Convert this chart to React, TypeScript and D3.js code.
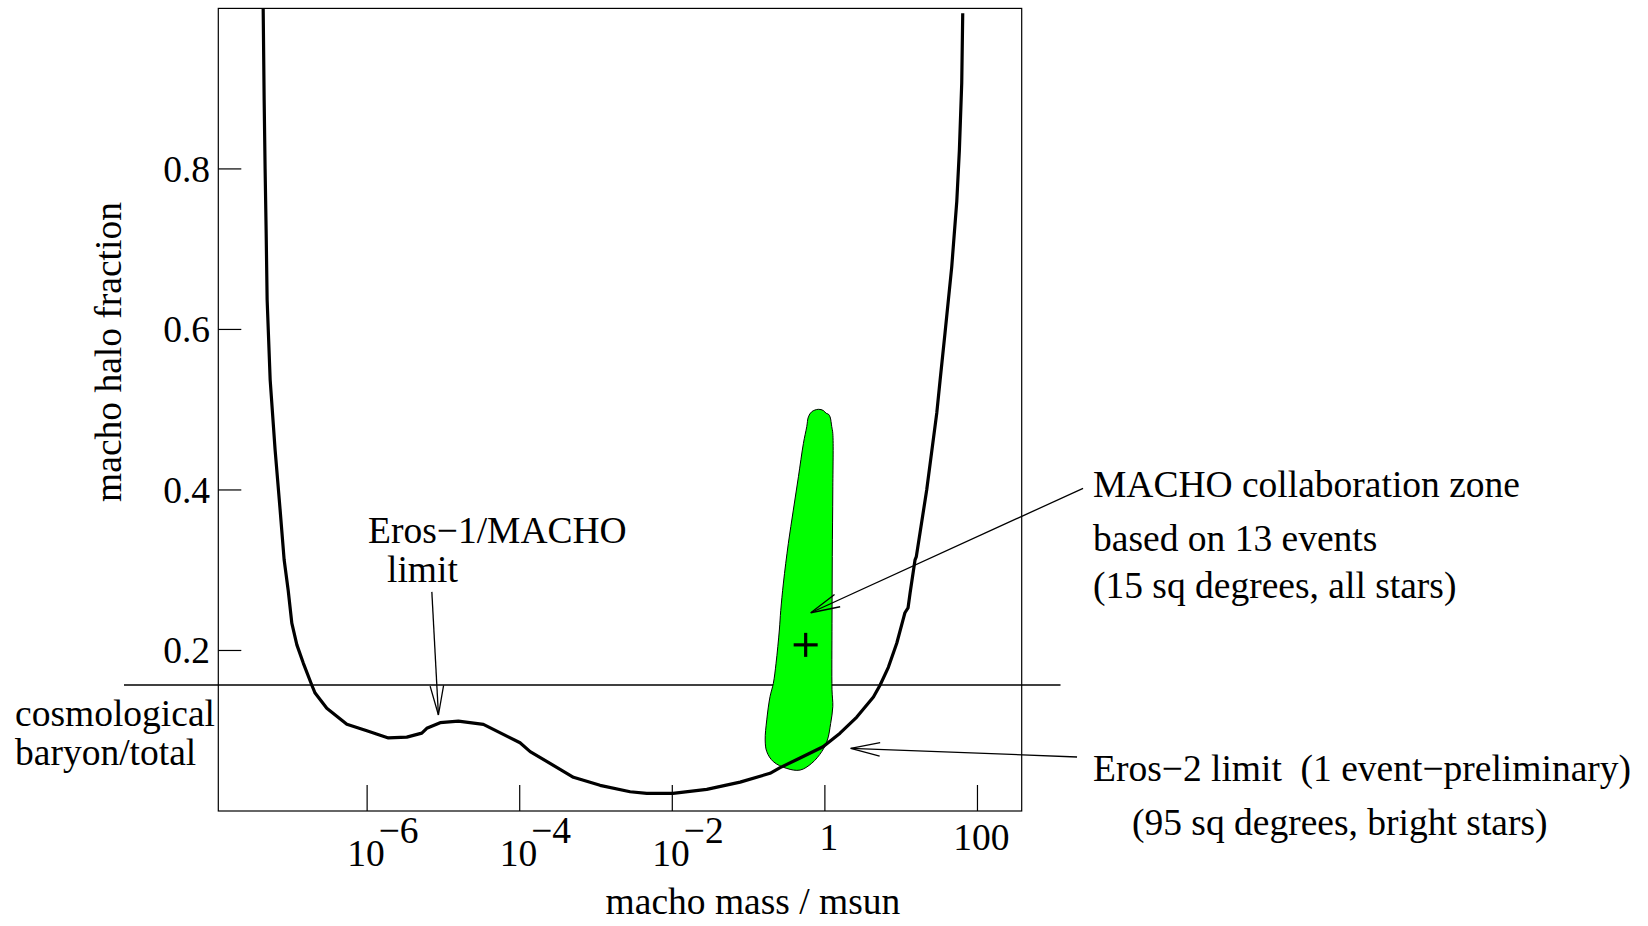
import React from 'react';
import * as d3 from 'd3';

// exclusion curve (Eros-2 / MACHO limit), mass in Msun vs halo fraction
const limitMass = [
  4.34e-8, 4.47e-8, 4.6e-8, 4.75e-8, 4.89e-8, 5.36e-8, 6.22e-8, 7.24e-8, 8.17e-8, 9.23e-8,
  1.03e-7, 1.2e-7, 1.46e-7, 1.88e-7, 2.08e-7, 2.96e-7, 5.42e-7, 9.91e-7, 1.9e-6, 3.31e-6,
  5.21e-6, 6.05e-6, 9.06e-6, 1.57e-5, 3.34e-5, 1.01e-4, 1.37e-4, 4.14e-4, 5.06e-4, 1.13e-3,
  2.8e-3, 4.63e-3, 1.02e-2, 2.83e-2, 7.74e-2, 0.191, 0.259, 0.473, 0.946, 1.58,
  2.62, 4.33, 5.3, 6.79, 8.75, 10.7, 11.2, 12.3, 13.1, 15.2,
  15.8, 21.6, 29.3, 32.4, 37.6, 46.0, 53.6, 57.9, 62.2, 64.1
];
const limitFraction = [
  1.0, 0.886, 0.8, 0.72, 0.637, 0.537, 0.45, 0.375, 0.313, 0.275,
  0.234, 0.207, 0.184, 0.157, 0.147, 0.128, 0.108, 0.1, 0.091, 0.092,
  0.097, 0.103, 0.11, 0.112, 0.108, 0.085, 0.074, 0.047, 0.042, 0.032,
  0.024, 0.022, 0.022, 0.027, 0.036, 0.047, 0.054, 0.066, 0.08, 0.097,
  0.117, 0.142, 0.157, 0.179, 0.209, 0.24, 0.247, 0.253, 0.272, 0.313,
  0.317, 0.4, 0.496, 0.537, 0.596, 0.678, 0.76, 0.823, 0.907, 0.994
];

// MACHO collaboration allowed zone (outline)
const zoneMass = [
  0.822, 0.673, 0.608, 0.579, 0.523, 0.45, 0.386, 0.332, 0.286, 0.264,
  0.253, 0.229, 0.211, 0.191, 0.173, 0.165, 0.173, 0.211, 0.317, 0.473,
  0.673, 0.91, 1.08, 1.19, 1.27, 1.24, 1.24, 1.25, 1.27, 1.27,
  1.23, 1.17, 1.11, 1.04, 0.955
];
const zoneFraction = [
  0.5005, 0.4975, 0.491, 0.479, 0.458, 0.4165, 0.375, 0.3335, 0.284, 0.25,
  0.2255, 0.184, 0.159, 0.1425, 0.1135, 0.0885, 0.074, 0.0615, 0.053, 0.051,
  0.0595, 0.074, 0.0885, 0.109, 0.13, 0.151, 0.234, 0.317, 0.4, 0.4705,
  0.479, 0.491, 0.4945, 0.4955, 0.499
];

const bestFit = { mass: 0.56, fraction: 0.207 };
const cosmoFraction = 0.157;

const xTicks = [1e-6, 1e-4, 1e-2, 1, 100];
const xTickBase = ['10', '10', '10', '1', '100'];
const xTickExp = ['\u22126', '\u22124', '\u22122', '', ''];
const yTicks = [0.2, 0.4, 0.6, 0.8];
const yTickLabels = ['0.2', '0.4', '0.6', '0.8'];

// annotation arrows: [from, to] in (mass, fraction)
const arrows = [
  { from: [7.05e-6, 0.273], to: [8.6e-6, 0.1196] },
  { from: [2420, 0.402], to: [0.653, 0.247] },
  { from: [2020, 0.0673], to: [2.18, 0.0781] }
];

const FONT = '"Liberation Serif", "Times New Roman", Times, serif';

export default function App() {
  const width = 1648;
  const height = 926;
  const box = { left: 218.3, right: 1021.7, top: 8.4, bottom: 811 };

  const x = d3.scaleLog().domain([1.12e-8, 380]).range([box.left, box.right]);
  const y = d3.scaleLinear().domain([0, 1]).range([box.bottom, box.top]);

  const curve = d3
    .line<number>()
    .x((_, i) => x(limitMass[i]))
    .y((_, i) => y(limitFraction[i]))
    .curve(d3.curveLinear)(limitMass);

  const zone =
    d3
      .line<number>()
      .x((_, i) => x(zoneMass[i]))
      .y((_, i) => y(zoneFraction[i]))
      .curve(d3.curveCatmullRomClosed.alpha(0.5))(zoneMass) || '';

  const arrowHead = (a) => {
    const [x1, y1] = [x(a.from[0]), y(a.from[1])];
    const [x2, y2] = [x(a.to[0]), y(a.to[1])];
    const ang = Math.atan2(y1 - y2, x1 - x2);
    const len = 30;
    const spread = (13 * Math.PI) / 180;
    const p1 = [x2 + len * Math.cos(ang + spread), y2 + len * Math.sin(ang + spread)];
    const p2 = [x2 + len * Math.cos(ang - spread), y2 + len * Math.sin(ang - spread)];
    return { x1, y1, x2, y2, d: `M${p1[0]},${p1[1]}L${x2},${y2}L${p2[0]},${p2[1]}` };
  };

  const textStyle = { fontFamily: FONT, fontSize: 37.5, fill: '#000' };
  const px = x(bestFit.mass);
  const py = y(bestFit.fraction);

  return (
    <div style={{ position: 'absolute', left: 0, top: 0 }}>
      <svg width={width} height={height} style={{ display: 'block', background: '#fff' }}>
        <rect x={0} y={0} width={width} height={height} fill="#fff" />

        {/* cosmological baryon fraction */}
        <line x1={124} x2={1060.5} y1={y(cosmoFraction)} y2={y(cosmoFraction)} stroke="#000" strokeWidth={1.3} />

        {/* frame */}
        <rect
          x={box.left}
          y={box.top}
          width={box.right - box.left}
          height={box.bottom - box.top}
          fill="none"
          stroke="#000"
          strokeWidth={1.2}
        />

        {/* y ticks */}
        {yTicks.map((t, i) => (
          <g key={'y' + i}>
            <line x1={box.left} x2={box.left + 23} y1={y(t)} y2={y(t)} stroke="#000" strokeWidth={1.2} />
            <text x={210} y={y(t) + 13} textAnchor="end" style={textStyle}>
              {yTickLabels[i]}
            </text>
          </g>
        ))}

        {/* x ticks */}
        {xTicks.map((t, i) => (
          <g key={'x' + i}>
            <line x1={x(t)} x2={x(t)} y1={box.bottom} y2={box.bottom - 26} stroke="#000" strokeWidth={1.2} />
            {xTickExp[i] ? (
              <text x={x(t) - 20} y={866} style={textStyle}>
                {xTickBase[i]}
                <tspan dx={-6} dy={-23}>{xTickExp[i]}</tspan>
              </text>
            ) : (
              <text x={x(t) + 4} y={850} textAnchor="middle" style={textStyle}>
                {xTickBase[i]}
              </text>
            )}
          </g>
        ))}

        {/* MACHO zone */}
        <path d={zone} fill="#00ff00" stroke="#000" strokeWidth={1} />

        {/* exclusion limit */}
        <path d={curve || ''} fill="none" stroke="#000" strokeWidth={3.2} strokeLinejoin="round" />

        {/* best fit */}
        <line x1={px - 12} x2={px + 12} y1={py} y2={py} stroke="#000" strokeWidth={3.2} />
        <line x1={px} x2={px} y1={py - 12} y2={py + 12} stroke="#000" strokeWidth={3.2} />

        {/* arrows */}
        {arrows.map((a, i) => {
          const h = arrowHead(a);
          return (
            <g key={'a' + i} stroke="#000" strokeWidth={1.3} fill="none">
              <line x1={h.x1} y1={h.y1} x2={h.x2} y2={h.y2} />
              <path d={h.d} />
            </g>
          );
        })}

        {/* axis titles */}
        <text transform="translate(121,352) rotate(-90)" textAnchor="middle" style={textStyle}>
          macho halo fraction
        </text>
        <text x={753} y={914} textAnchor="middle" style={textStyle}>
          macho mass / msun
        </text>

        {/* annotations */}
        <text x={15} y={726} style={textStyle}>cosmological</text>
        <text x={15} y={765} style={textStyle}>baryon/total</text>
        <text x={368} y={543} style={textStyle}>Eros{'\u2212'}1/MACHO</text>
        <text x={387} y={582} style={textStyle}>limit</text>
        <text x={1093} y={497} style={textStyle}>MACHO collaboration zone</text>
        <text x={1093} y={551} style={textStyle}>based on 13 events</text>
        <text x={1093} y={598} style={textStyle}>(15 sq degrees, all stars)</text>
        <text x={1093} y={781} style={{ ...textStyle, whiteSpace: 'pre' }}>
          {'Eros\u22122 limit  (1 event\u2212preliminary)'}
        </text>
        <text x={1132} y={835} style={textStyle}>(95 sq degrees, bright stars)</text>
      </svg>
    </div>
  );
}
